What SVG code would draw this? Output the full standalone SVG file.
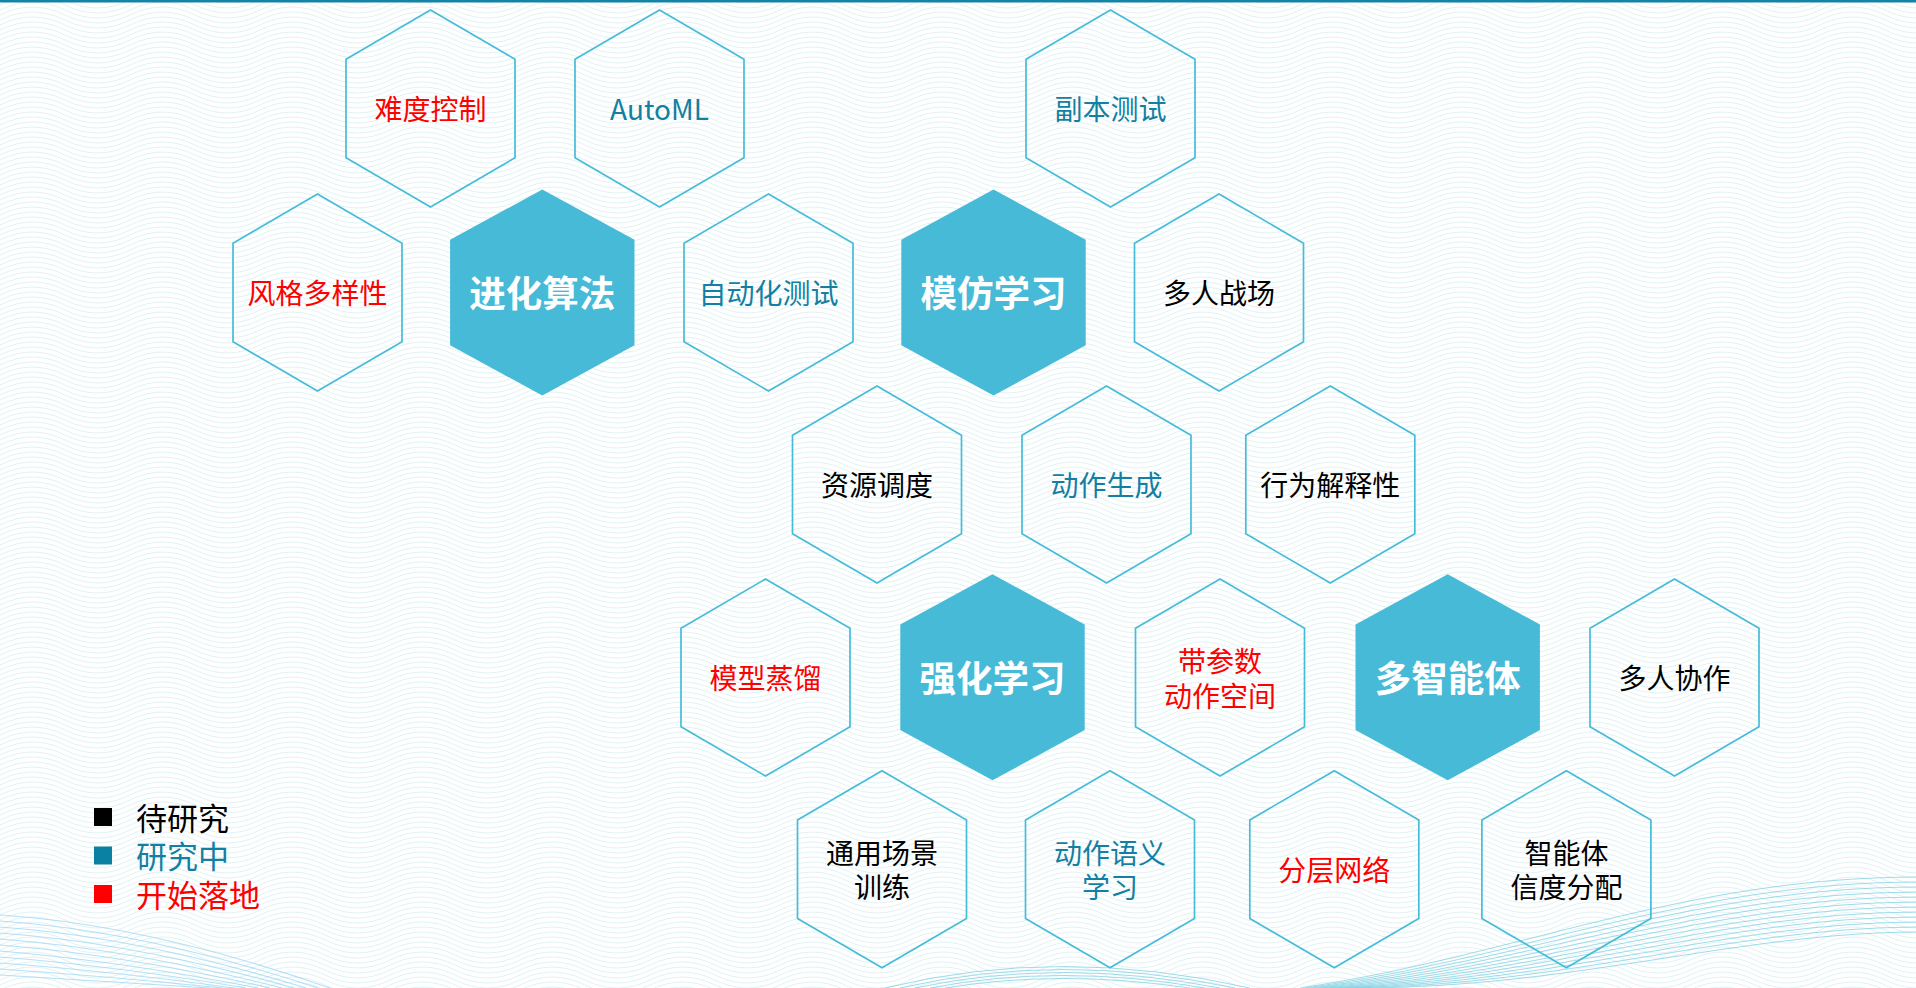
<svg xmlns="http://www.w3.org/2000/svg" xmlns:xlink="http://www.w3.org/1999/xlink" width="1916" height="988" viewBox="0 0 1916 988">
<style>
.hex{fill:none;stroke:#46BCD9;stroke-width:1.7}
.hexf{fill:#46BAD7;stroke:none}
.t{font-family:"Noto Sans CJK SC","Noto Sans",sans-serif;font-size:28px;text-anchor:middle}
.t2{font-family:"Liberation Sans","Noto Sans CJK SC",sans-serif;font-size:28px;text-anchor:middle}
.tb{font-family:"Noto Sans CJK SC","Noto Sans",sans-serif;font-size:36.5px;font-weight:bold;fill:#FFFFFF;text-anchor:middle}
.lg{font-family:"Liberation Sans","Noto Sans CJK SC",sans-serif;font-size:31px}
.red{fill:#FF0000}
.teal{fill:#137FA2}
.blk{fill:#000000}
.bgw{fill:none;stroke:#DDF1F3;stroke-width:0.9}
.wv{fill:none;stroke:#86D2E4;stroke-width:1;opacity:0.8}
.wvl{fill:none;stroke:#9CD6F0;stroke-width:1.1;opacity:0.75}
</style>
<defs>
<pattern id="bgp" patternUnits="userSpaceOnUse" width="130" height="30">
<path class="bgw" d="M0,-10 Q32.5,-26 65,-10 T130,-10 M0,-5 Q32.5,-21 65,-5 T130,-5 M0,0 Q32.5,-16 65,0 T130,0 M0,5 Q32.5,-11 65,5 T130,5 M0,10 Q32.5,-6 65,10 T130,10 M0,15 Q32.5,-1 65,15 T130,15 M0,20 Q32.5,4 65,20 T130,20 M0,25 Q32.5,9 65,25 T130,25 M0,30 Q32.5,14 65,30 T130,30 M0,35 Q32.5,19 65,35 T130,35"/>
</pattern>
<path id="ho" d="M0,-98.5 L84.5,-49.3 L84.5,49.3 L0,98.5 L-84.5,49.3 L-84.5,-49.3 Z"/>
<path id="hf" d="M0,-103 L92.2,-52.8 L92.2,52.8 L0,103 L-92.2,52.8 L-92.2,-52.8 Z"/>
</defs>

<g id="background">
<rect x="0" y="0" width="1916" height="988" fill="#FFFFFF"/>
<rect x="0" y="0" width="1916" height="988" fill="url(#bgp)"/>
<rect x="0" y="0" width="1916" height="2.5" fill="#1483A6"/>
<g id="wave-left">
<path class="wvl" d="M0,915 Q150,925 330,988"/>
<path class="wvl" d="M0,921 Q145,931 318,988"/>
<path class="wvl" d="M0,927 Q140,937 306,988"/>
<path class="wvl" d="M0,933 Q135,943 294,988"/>
<path class="wvl" d="M0,939 Q130,949 282,988"/>
<path class="wvl" d="M0,945 Q125,955 270,988"/>
<path class="wvl" d="M0,951 Q120,961 258,988"/>
<path class="wvl" d="M0,957 Q115,966 246,988"/>
<path class="wvl" d="M0,963 Q110,971 234,988"/>
<path class="wvl" d="M0,969 Q105,976 222,988"/>
<path class="wvl" d="M0,975 Q100,981 210,988"/>
</g>
<g id="wave-mid">
<path class="wv" d="M885,988 Q1060,945 1250,988"/>
<path class="wv" d="M900,988 Q1060,951 1235,988"/>
<path class="wv" d="M915,988 Q1060,957 1220,988"/>
<path class="wv" d="M930,988 Q1060,963 1205,988"/>
<path class="wv" d="M945,988 Q1060,969 1190,988"/>
</g>
<g id="wave-right">
<path class="wv" d="M1300,988 C1520,955 1680,878 1916,877"/>
<path class="wv" d="M1305,988 C1525,958 1685,883 1916,882"/>
<path class="wv" d="M1310,988 C1530,961 1690,888 1916,887"/>
<path class="wv" d="M1315,988 C1535,964 1695,893 1916,892"/>
<path class="wv" d="M1320,988 C1540,967 1700,898 1916,897"/>
<path class="wv" d="M1325,988 C1545,970 1705,903 1916,902"/>
<path class="wv" d="M1330,988 C1550,973 1710,908 1916,907"/>
<path class="wv" d="M1335,988 C1555,976 1715,913 1916,912"/>
<path class="wv" d="M1340,988 C1560,979 1720,918 1916,917"/>
<path class="wv" d="M1345,988 C1565,982 1725,923 1916,922"/>
<path class="wv" d="M1350,988 C1570,985 1730,928 1916,927"/>
<path class="wv" d="M1355,988 C1575,988 1735,933 1916,932"/>
</g>
</g>

<g id="connectors"></g>

<g id="n1"><use xlink:href="#ho" class="hex" transform="translate(430.5,108.5)"/><text class="t red" x="430.5" y="120">难度控制</text></g>
<g id="n2"><use xlink:href="#ho" class="hex" transform="translate(659.5,108.5)"/><text class="t teal" x="659.5" y="120">AutoML</text></g>
<g id="n3"><use xlink:href="#ho" class="hex" transform="translate(1110.5,108.5)"/><text class="t teal" x="1110.5" y="120">副本测试</text></g>

<g id="n4"><use xlink:href="#ho" class="hex" transform="translate(317.5,292.5)"/><text class="t red" x="317.5" y="304">风格多样性</text></g>
<g id="n5"><use xlink:href="#hf" class="hexf" transform="translate(542.3,292.5)"/><text class="tb" x="542.3" y="307">进化算法</text></g>
<g id="n6"><use xlink:href="#ho" class="hex" transform="translate(768.5,292.5)"/><text class="t teal" x="768.5" y="304">自动化测试</text></g>
<g id="n7"><use xlink:href="#hf" class="hexf" transform="translate(993.5,292.5)"/><text class="tb" x="993.5" y="307">模仿学习</text></g>
<g id="n8"><use xlink:href="#ho" class="hex" transform="translate(1219,292.5)"/><text class="t blk" x="1219" y="304">多人战场</text></g>

<g id="n9"><use xlink:href="#ho" class="hex" transform="translate(877,484.5)"/><text class="t blk" x="877" y="496">资源调度</text></g>
<g id="n10"><use xlink:href="#ho" class="hex" transform="translate(1106.5,484.5)"/><text class="t teal" x="1106.5" y="496">动作生成</text></g>
<g id="n11"><use xlink:href="#ho" class="hex" transform="translate(1330.3,484.5)"/><text class="t blk" x="1330.3" y="496">行为解释性</text></g>

<g id="n12"><use xlink:href="#ho" class="hex" transform="translate(765.5,677.5)"/><text class="t red" x="765.5" y="689">模型蒸馏</text></g>
<g id="n13"><use xlink:href="#hf" class="hexf" transform="translate(992.5,677.3)"/><text class="tb" x="992.5" y="692">强化学习</text></g>
<g id="n14"><use xlink:href="#ho" class="hex" transform="translate(1220,677.5)"/><text class="t2 red" x="1220" y="672">带参数</text><text class="t2 red" x="1220" y="707">动作空间</text></g>
<g id="n15"><use xlink:href="#hf" class="hexf" transform="translate(1447.7,677.3)"/><text class="tb" x="1447.7" y="692">多智能体</text></g>
<g id="n16"><use xlink:href="#ho" class="hex" transform="translate(1674.5,677.5)"/><text class="t blk" x="1674.5" y="689">多人协作</text></g>

<g id="n17"><use xlink:href="#ho" class="hex" transform="translate(882,869.2)"/><text class="t2 blk" x="882" y="864">通用场景</text><text class="t2 blk" x="882" y="898">训练</text></g>
<g id="n18"><use xlink:href="#ho" class="hex" transform="translate(1110,869.2)"/><text class="t2 teal" x="1110" y="864">动作语义</text><text class="t2 teal" x="1110" y="898">学习</text></g>
<g id="n19"><use xlink:href="#ho" class="hex" transform="translate(1334.3,869.2)"/><text class="t red" x="1334.3" y="881">分层网络</text></g>
<g id="n20"><use xlink:href="#ho" class="hex" transform="translate(1566.4,869.2)"/><text class="t2 blk" x="1566.4" y="864">智能体</text><text class="t2 blk" x="1566.4" y="898">信度分配</text></g>

<g id="legend">
<rect x="94" y="808" width="18" height="18" fill="#000000"/>
<text class="lg blk" x="136" y="830">待研究</text>
<rect x="94" y="846.5" width="18" height="18" fill="#0A80A2"/>
<text class="lg teal" x="136" y="868">研究中</text>
<rect x="94" y="885" width="18" height="18" fill="#FF0000"/>
<text class="lg red" x="136" y="907">开始落地</text>
</g>
</svg>
